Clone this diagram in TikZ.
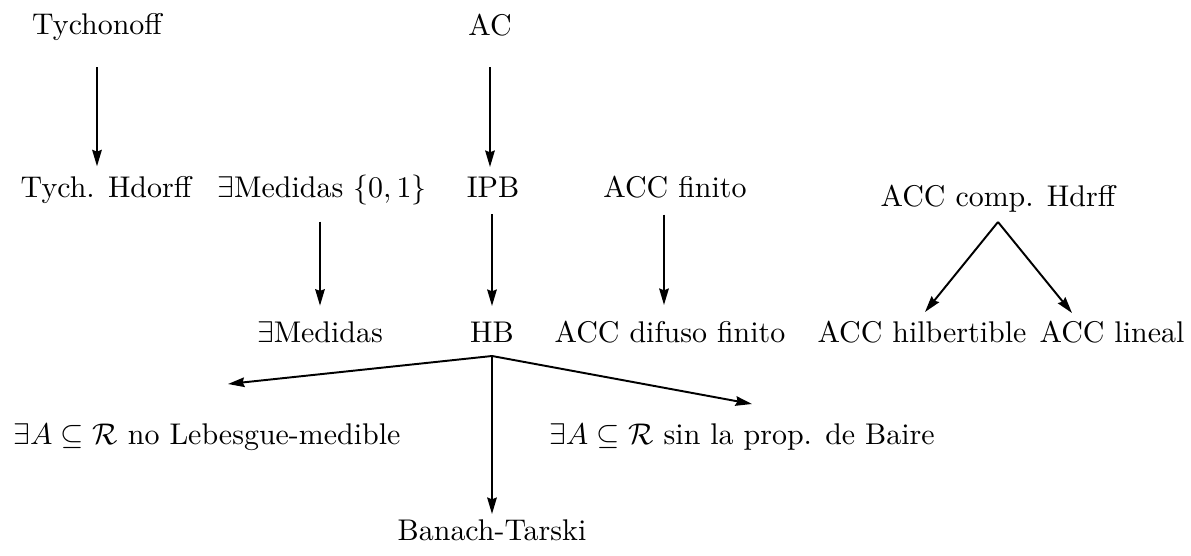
\documentclass[tikz,border=0pt]{standalone}
\usetikzlibrary{arrows.meta}
\begin{document}
\begin{tikzpicture}[x=0.334pt,y=-0.334pt,
  lbl/.style={anchor=base,inner sep=0pt,font=\fontsize{10}{12}\selectfont},
  arr/.style={line width=0.65pt,-{Stealth[length=5.5pt,width=3.2pt,inset=0.6pt]}}]
\useasboundingbox (0,0) rectangle (1191,556);
% row 1
\node[lbl] (tych) at (97,35) {Tychonoff};
\node[lbl] (ac) at (490,36) {AC};
% row 2
\node[lbl] (hd) at (106,197) {Tych. Hdorff};
\node[lbl] (med01) at (322,197) {$\exists$Medidas $\{0,1\}$};
\node[lbl] (ipb) at (493,197) {IPB};
\node[lbl] (accf) at (675,197) {ACC finito};
\node[lbl] (comp) at (998,206) {ACC comp. Hdrff};
% row 3
\node[lbl] (med) at (320,342) {$\exists$Medidas};
\node[lbl] (hb) at (492,342) {HB};
\node[lbl] (dif) at (670,342) {ACC difuso finito};
\node[lbl] (hilb) at (922,342) {ACC hilbertible};
\node[lbl] (lin) at (1112,342) {ACC lineal};
% row 4
\node[lbl] (leb) at (207,444) {$\exists A\subseteq\mathcal{R}$ no Lebesgue-medible};
\node[lbl] (baire) at (742,444) {$\exists A\subseteq\mathcal{R}$ sin la prop. de Baire};
\node[lbl] (bt) at (492,540) {Banach-Tarski};
% free ends
\coordinate (hbapex) at (492,356);
\coordinate (compapex) at (998,222);
\coordinate (lebtip) at (228,384);
\coordinate (bairetip) at (752,404);
\coordinate (bttip) at (492,514);
\coordinate (hilbtip) at (925,312);
\coordinate (lintip) at (1072,313);
% arrows
\draw[arr] ([yshift=-8.5pt]tych.south) -- ([yshift=3pt]hd.north -| tych.south);
\draw[arr] ([yshift=-10pt]ac.south) -- ([yshift=3pt]ipb.north -| ac.south);
\draw[arr] ([yshift=-5.5pt]med01.south -| med.north) -- ([yshift=5pt]med.north);
\draw[arr] ([yshift=-5.5pt]ipb.south -| hb.north) -- ([yshift=5pt]hb.north);
\draw[arr] ([yshift=-5.5pt]accf.south -| 664,0) -- ([yshift=5pt]dif.north -| 664,0);
\draw[arr] (compapex) -- (hilbtip);
\draw[arr] (compapex) -- (lintip);
\draw[arr] (hbapex) -- (lebtip);
\draw[arr] (hbapex) -- (bairetip);
\draw[arr] (hbapex) -- (bttip);
\end{tikzpicture}
\end{document}
